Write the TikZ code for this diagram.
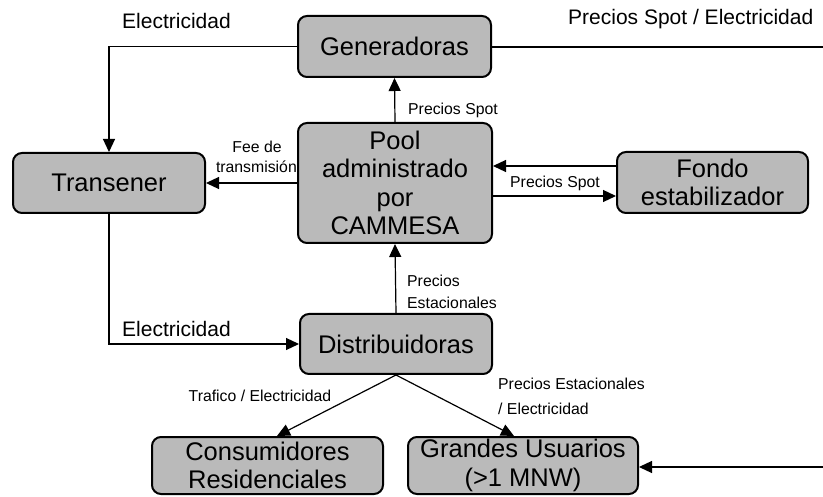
\documentclass[tikz,border=0pt]{standalone}
\usepackage{fontspec}
\setmainfont{Liberation Sans}
\usetikzlibrary{arrows.meta}
\begin{document}
\begin{tikzpicture}[x=1pt,y=-1pt,
  box/.style={draw=black, line width=2pt, rounded corners=9pt, fill=black!27,
    inner sep=0pt, align=center, font=\fontsize{25.5}{28.5}\selectfont},
  conn/.style={line width=1.2pt, -{Triangle[length=13pt,width=12pt]}},
  plain/.style={line width=1.2pt},
  biglbl/.style={inner sep=0pt, font=\fontsize{21}{24}\selectfont},
  smalllbl/.style={inner sep=0pt, font=\fontsize{15.8}{19}\selectfont}]
\useasboundingbox (0,0) rectangle (823,497);

% boxes
\node[box, minimum width=193pt, minimum height=61pt] (gen) at (394.5,46.5) {Generadoras};
\node[box, minimum width=194pt, minimum height=120pt] (pool) at (395,183) {Pool\\administrado\\por\\CAMMESA};
\node[box, minimum width=192pt, minimum height=60pt] (tra) at (109,183) {Transener};
\node[box, minimum width=191pt, minimum height=61pt] (fon) at (712.5,182.5) {Fondo\\estabilizador};
\node[box, minimum width=192pt, minimum height=60pt] (dis) at (396,344) {Distribuidoras};
\node[box, minimum width=231pt, minimum height=57pt] (con) at (267.5,465.5) {Consumidores\\Residenciales};
\node[box, minimum width=230pt, minimum height=57pt] (gra) at (523,465.5) {Grandes Usuarios\\(>1 MNW)};

% helper coordinates
\coordinate (genR) at (823,47);
\coordinate (fa) at (0,166);
\coordinate (fb) at (0,196);
\coordinate (cx) at (277,0);
\coordinate (gx) at (514,0);
\coordinate (graR) at (823,467);

% connectors
\draw[conn] (gen.west) -| (tra.north);
\draw[plain] (genR -| gen.east) -- (genR);
\draw[conn] (pool.north) -- (gen.south);
\draw[conn] (pool.west) -- (tra.east);
\draw[conn] (fon.west |- fa) -- (pool.east |- fa);
\draw[conn] (pool.east |- fb) -- (fon.west |- fb);
\draw[conn] (dis.north) -- (pool.south);
\draw[conn] (tra.south) |- (dis.west);
\draw[conn] (dis.south) -- (con.north -| cx);
\draw[conn] (dis.south) -- (gra.north -| gx);
\draw[conn] (graR) -- (gra.east |- graR);

% labels
\node[biglbl, anchor=base west] (l1) at (122,29) {Electricidad};
\node[biglbl, anchor=base west] (l2) at (568,25) {Precios Spot / Electricidad};
\node[biglbl, anchor=base west] (l3) at (122,337) {Electricidad};
\node[smalllbl, anchor=base west] (l4) at (408,115) {Precios Spot};
\node[smalllbl, anchor=base] (l5a) at (257,153) {Fee de};
\node[smalllbl, anchor=base east] (l5b) at (297,173) {transmisión};
\node[smalllbl, anchor=base west] (l6) at (510,188) {Precios Spot};
\node[smalllbl, anchor=base west] (l7a) at (407,287) {Precios};
\node[smalllbl, anchor=base west] (l7b) at (407,309) {Estacionales};
\node[smalllbl, anchor=base] (l8) at (260,402) {Trafico / Electricidad};
\node[smalllbl, anchor=base west] (l9a) at (498,390) {Precios Estacionales};
\node[smalllbl, anchor=base west] (l9b) at (498,414) {/ Electricidad};
\end{tikzpicture}
\end{document}
